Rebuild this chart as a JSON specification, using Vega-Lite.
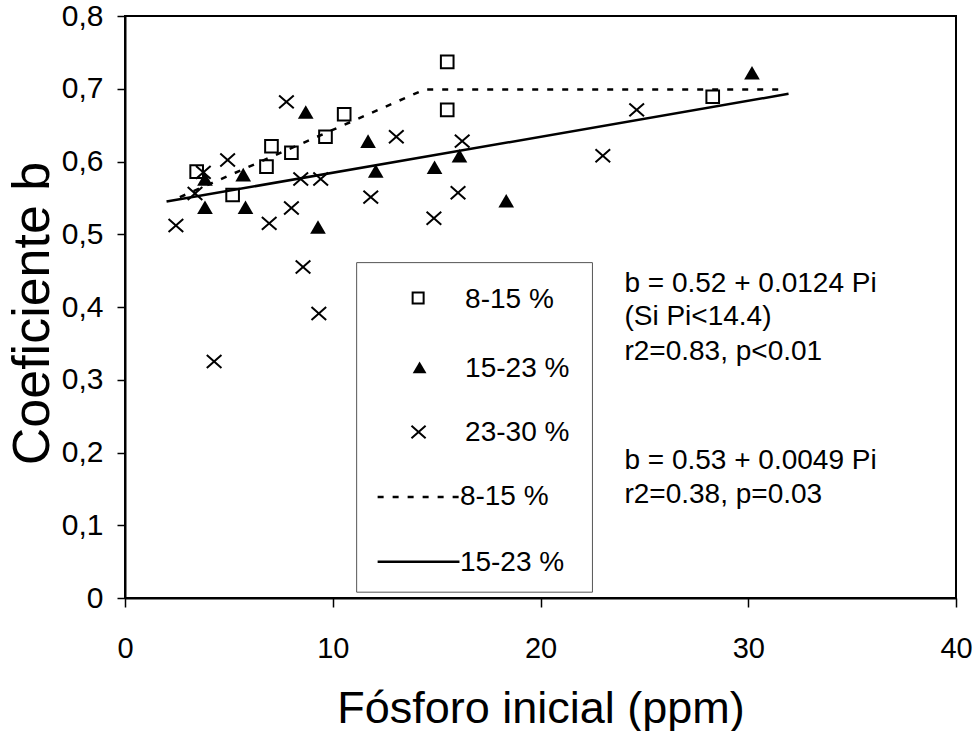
{
  "$schema": "https://vega.github.io/schema/vega-lite/v6.json",
  "width": 831,
  "height": 582,
  "autosize": {"type": "none"},
  "padding": {"left": 125, "top": 16, "right": 17, "bottom": 133},
  "background": "white",
  "config": {
    "font": "Liberation Sans",
    "view": {"stroke": "black", "strokeWidth": 2},
    "axis": {
      "grid": false,
      "domainColor": "black",
      "domainWidth": 2,
      "tickColor": "black",
      "tickWidth": 1.5,
      "labelColor": "black",
      "titleColor": "black",
      "labelFont": "Liberation Sans",
      "titleFont": "Liberation Sans",
      "titleFontWeight": "normal",
      "labelFlush": false,
      "labelOverlap": false,
      "labelBound": false
    }
  },
  "datasets": {
    "points": [
      {"g": "sq", "x": 3.45, "y": 0.586},
      {"g": "sq", "x": 5.18, "y": 0.554},
      {"g": "sq", "x": 6.81, "y": 0.593},
      {"g": "sq", "x": 7.05, "y": 0.621},
      {"g": "sq", "x": 8.01, "y": 0.612},
      {"g": "sq", "x": 9.65, "y": 0.634},
      {"g": "sq", "x": 10.55, "y": 0.665},
      {"g": "sq", "x": 15.51, "y": 0.737},
      {"g": "sq", "x": 15.51, "y": 0.671},
      {"g": "sq", "x": 28.29, "y": 0.689},
      {"g": "tri", "x": 3.85, "y": 0.576},
      {"g": "tri", "x": 3.85, "y": 0.537},
      {"g": "tri", "x": 5.69, "y": 0.582},
      {"g": "tri", "x": 5.8, "y": 0.537},
      {"g": "tri", "x": 8.7, "y": 0.668},
      {"g": "tri", "x": 9.29, "y": 0.51},
      {"g": "tri", "x": 11.7, "y": 0.628},
      {"g": "tri", "x": 12.07, "y": 0.587},
      {"g": "tri", "x": 14.9, "y": 0.592},
      {"g": "tri", "x": 16.1, "y": 0.608},
      {"g": "tri", "x": 18.35, "y": 0.546},
      {"g": "tri", "x": 30.18, "y": 0.722},
      {"g": "x", "x": 2.45, "y": 0.512},
      {"g": "x", "x": 3.37, "y": 0.556},
      {"g": "x", "x": 3.77, "y": 0.585},
      {"g": "x", "x": 4.29, "y": 0.325},
      {"g": "x", "x": 4.94, "y": 0.602},
      {"g": "x", "x": 6.94, "y": 0.515},
      {"g": "x", "x": 7.77, "y": 0.682},
      {"g": "x", "x": 8.01, "y": 0.536},
      {"g": "x", "x": 8.46, "y": 0.576},
      {"g": "x", "x": 8.57, "y": 0.455},
      {"g": "x", "x": 9.33, "y": 0.391},
      {"g": "x", "x": 9.42, "y": 0.576},
      {"g": "x", "x": 11.83, "y": 0.551},
      {"g": "x", "x": 13.06, "y": 0.634},
      {"g": "x", "x": 14.87, "y": 0.522},
      {"g": "x", "x": 16.03, "y": 0.557},
      {"g": "x", "x": 16.23, "y": 0.628},
      {"g": "x", "x": 23.0, "y": 0.608},
      {"g": "x", "x": 24.63, "y": 0.671}
    ],
    "lines": [
      {"fit": "a", "x": 2.64, "y": 0.551},
      {"fit": "a", "x": 14.42, "y": 0.699},
      {"fit": "a", "x": 31.57, "y": 0.699},
      {"fit": "b", "x": 2.0, "y": 0.545},
      {"fit": "b", "x": 31.94, "y": 0.693}
    ],
    "box": [{"x": 11.15, "x2": 22.5, "y": 0.008, "y2": 0.461}],
    "legendSym": [
      {"g": "sq", "x": 14.11, "y": 0.4124},
      {"g": "tri", "x": 14.18, "y": 0.317},
      {"g": "x", "x": 14.13, "y": 0.2282}
    ],
    "legendLines": [
      {"fit": "a", "x": 12.16, "x2": 16.1, "y": 0.139},
      {"fit": "b", "x": 12.16, "x2": 16.1, "y": 0.0498}
    ],
    "legendText": [
      {"x": 16.37, "y": 0.3993, "label": "8-15 %"},
      {"x": 16.37, "y": 0.3033, "label": "15-23 %"},
      {"x": 16.37, "y": 0.2158, "label": "23-30 %"},
      {"x": 16.12, "y": 0.1276, "label": "8-15 %"},
      {"x": 16.12, "y": 0.0375, "label": "15-23 %"}
    ],
    "notes": [
      {"x": 24.04, "y": 0.4203, "label": "b = 0.52 + 0.0124 Pi"},
      {"x": 24.04, "y": 0.3746, "label": "(Si Pi<14.4)"},
      {"x": 24.04, "y": 0.3275, "label": "r2=0.83, p<0.01"},
      {"x": 24.04, "y": 0.178, "label": "b = 0.53 + 0.0049 Pi"},
      {"x": 24.04, "y": 0.1308, "label": "r2=0.38, p=0.03"}
    ]
  },
  "encoding": {
    "x": {
      "field": "x",
      "type": "quantitative",
      "scale": {"domain": [0, 40], "nice": false, "zero": false},
      "axis": {
        "values": [0, 10, 20, 30, 40],
        "title": "Fósforo inicial (ppm)",
        "titleFontSize": 45,
        "labelFontSize": 29,
        "tickSize": 9,
        "labelPadding": 27,
        "titleY": 124,
        "titleBaseline": "alphabetic"
      }
    },
    "y": {
      "field": "y",
      "type": "quantitative",
      "scale": {"domain": [0, 0.8], "nice": false, "zero": false},
      "axis": {
        "values": [0, 0.1, 0.2, 0.3, 0.4, 0.5, 0.6, 0.7, 0.8],
        "labelExpr": "datum.value == 0 ? '0' : replace(format(datum.value, '.1f'), '.', ',')",
        "title": "Coeficiente b",
        "titleFontSize": 52,
        "labelFontSize": 30,
        "tickSize": 8,
        "labelPadding": 14,
        "titleX": -77,
        "titleY": 297,
        "titleAngle": -90,
        "titleBaseline": "alphabetic"
      }
    }
  },
  "layer": [
    {
      "data": {"name": "lines"},
      "transform": [{"filter": "datum.fit == 'a'"}],
      "mark": {"type": "line", "color": "black", "strokeWidth": 2.5, "strokeDash": [6, 9]},
      "encoding": {}
    },
    {
      "data": {"name": "lines"},
      "transform": [{"filter": "datum.fit == 'b'"}],
      "mark": {"type": "line", "color": "black", "strokeWidth": 2.5},
      "encoding": {}
    },
    {
      "data": {"name": "points"},
      "transform": [{"filter": "datum.g == 'sq'"}],
      "mark": {"type": "point", "shape": "square", "filled": false, "stroke": "black", "strokeWidth": 2, "size": 160, "opacity": 1},
      "encoding": {}
    },
    {
      "data": {"name": "points"},
      "transform": [{"filter": "datum.g == 'tri'"}],
      "mark": {"type": "point", "shape": "triangle-up", "filled": true, "fill": "black", "size": 246, "opacity": 1},
      "encoding": {}
    },
    {
      "data": {"name": "points"},
      "transform": [{"filter": "datum.g == 'x'"}],
      "mark": {"type": "point", "shape": "M-1,-0.88L1,0.88M-1,0.88L1,-0.88", "filled": false, "stroke": "black", "strokeWidth": 2, "size": 215, "opacity": 1},
      "encoding": {}
    },
    {
      "data": {"name": "box"},
      "mark": {"type": "rect", "fill": "white", "stroke": "#555555", "strokeWidth": 1},
      "encoding": {
        "x2": {"field": "x2"},
        "y2": {"field": "y2"}
      }
    },
    {
      "data": {"name": "legendSym"},
      "transform": [{"filter": "datum.g == 'sq'"}],
      "mark": {"type": "point", "shape": "square", "filled": false, "stroke": "black", "strokeWidth": 2, "size": 121, "opacity": 1},
      "encoding": {}
    },
    {
      "data": {"name": "legendSym"},
      "transform": [{"filter": "datum.g == 'tri'"}],
      "mark": {"type": "point", "shape": "triangle-up", "filled": true, "fill": "black", "size": 190, "opacity": 1},
      "encoding": {}
    },
    {
      "data": {"name": "legendSym"},
      "transform": [{"filter": "datum.g == 'x'"}],
      "mark": {"type": "point", "shape": "M-1,-0.88L1,0.88M-1,0.88L1,-0.88", "filled": false, "stroke": "black", "strokeWidth": 2, "size": 200, "opacity": 1},
      "encoding": {}
    },
    {
      "data": {"name": "legendLines"},
      "transform": [{"filter": "datum.fit == 'a'"}],
      "mark": {"type": "rule", "color": "black", "strokeWidth": 2.5, "strokeDash": [6, 9]},
      "encoding": {"x2": {"field": "x2"}}
    },
    {
      "data": {"name": "legendLines"},
      "transform": [{"filter": "datum.fit == 'b'"}],
      "mark": {"type": "rule", "color": "black", "strokeWidth": 2.5},
      "encoding": {"x2": {"field": "x2"}}
    },
    {
      "data": {"name": "legendText"},
      "mark": {"type": "text", "align": "left", "baseline": "alphabetic", "fontSize": 28, "color": "black", "font": "Liberation Sans"},
      "encoding": {"text": {"field": "label"}}
    },
    {
      "data": {"name": "notes"},
      "mark": {"type": "text", "align": "left", "baseline": "alphabetic", "fontSize": 28, "color": "black", "font": "Liberation Sans"},
      "encoding": {"text": {"field": "label"}}
    }
  ]
}
